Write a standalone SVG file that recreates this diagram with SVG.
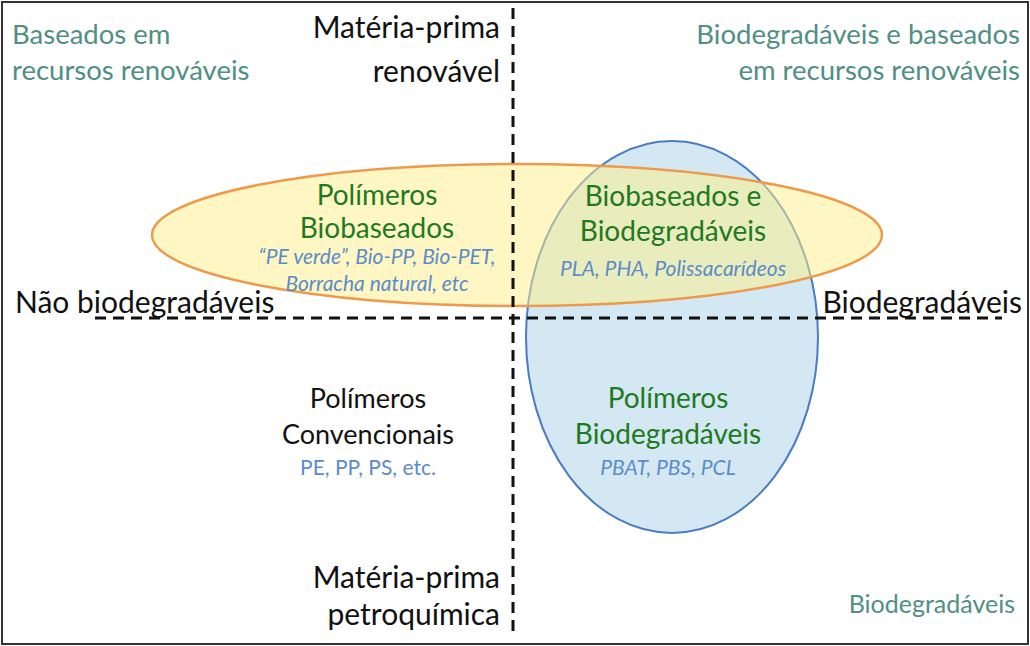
<svg xmlns="http://www.w3.org/2000/svg" width="1030" height="646" viewBox="0 0 1030 646">
<style>
text{font-family:Lato,"Open Sans","Liberation Sans",sans-serif}
.teal{fill:#4f8f84;font-size:27.5px}
.blk{fill:#111;font-size:30px}
.grn{fill:#1f7a1f;font-size:28px}
.sub{fill:#5b8cc8;font-size:21px;font-style:italic}
.subn{fill:#5b8cc8;font-size:21px}
.mid{text-anchor:middle}
.end{text-anchor:end}
.dash{stroke:#111;stroke-width:3;stroke-dasharray:11 7;fill:none}
</style>
<rect x="0" y="0" width="1030" height="646" fill="#fff"/>
<rect x="2" y="2" width="1026" height="642" fill="none" stroke="#333" stroke-width="2"/>
<g id="ellipses">
<ellipse id="biodeg-ellipse" cx="672" cy="337" rx="146" ry="196" fill="#d3e8f3" stroke="#4a7cc2" stroke-width="2"/>
<ellipse id="biobased-ellipse" cx="517" cy="235" rx="365" ry="71" fill="#fff088" fill-opacity="0.5" stroke="#ee9a4c" stroke-width="2.5"/>
</g>
<g id="axes">
<line class="dash" x1="513" y1="8" x2="513" y2="634"/>
<line class="dash" x1="95" y1="318" x2="1002" y2="318"/>
</g>
<g id="corner-tl"><text class="teal" x="12" y="44">Baseados em</text><text class="teal" x="12" y="80">recursos renováveis</text></g>
<g id="corner-tr"><text class="teal end" x="1020" y="44">Biodegradáveis e baseados</text><text class="teal end" x="1020" y="80">em recursos renováveis</text></g>
<g id="axis-top"><text class="blk end" x="500" y="38">Matéria-prima</text><text class="blk end" x="500" y="82">renovável</text></g>
<g id="axis-left"><text class="blk" x="15" y="313">Não biodegradáveis</text></g>
<g id="axis-right"><text class="blk end" x="1022" y="313">Biodegradáveis</text></g>
<g id="axis-bottom"><text class="blk end" x="500" y="588">Matéria-prima</text><text class="blk end" x="500" y="625">petroquímica</text></g>
<g id="corner-br"><text class="teal end" x="1015" y="613" style="font-size:25px">Biodegradáveis</text></g>
<g id="biobaseados"><text class="grn mid" x="377" y="205">Polímeros</text><text class="grn mid" x="377" y="238">Biobaseados</text><text class="sub mid" x="377" y="264">“PE verde”, Bio-PP, Bio-PET,</text><text class="sub mid" x="377" y="291">Borracha natural, etc</text></g>
<g id="bio-both"><text class="grn mid" x="673" y="206">Biobaseados e</text><text class="grn mid" x="673" y="241">Biodegradáveis</text><text class="sub mid" x="673" y="276">PLA, PHA, Polissacarídeos</text></g>
<g id="convencionais"><text class="blk mid" x="368" y="408" style="font-size:27px">Polímeros</text><text class="blk mid" x="368" y="444" style="font-size:27px">Convencionais</text><text class="subn mid" x="368" y="475">PE, PP, PS, etc.</text></g>
<g id="biodegradaveis"><text class="grn mid" x="668" y="408">Polímeros</text><text class="grn mid" x="668" y="444">Biodegradáveis</text><text class="sub mid" x="668" y="475">PBAT, PBS, PCL</text></g>
</svg>
